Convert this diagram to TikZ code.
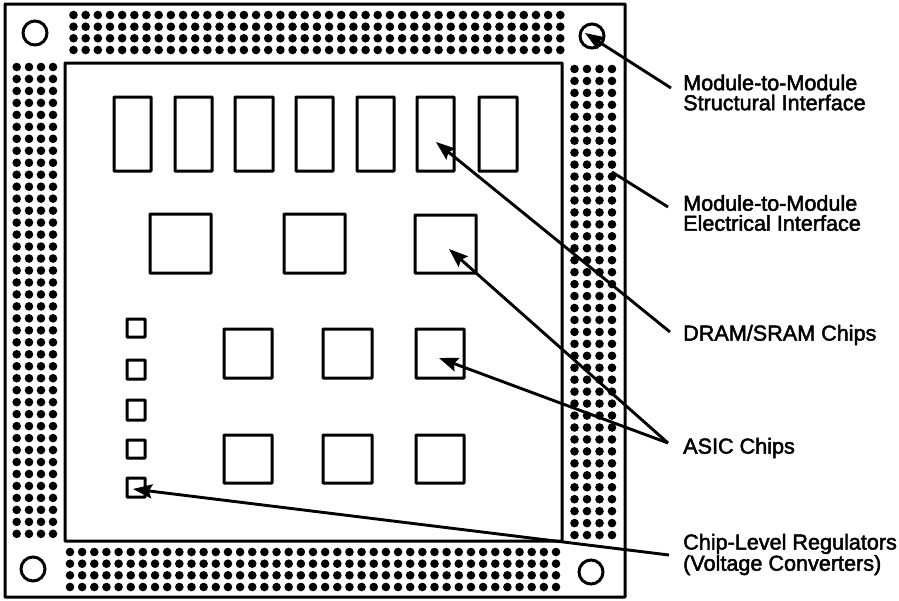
\documentclass[tikz,border=0pt]{standalone}
\usepackage{fontspec}
\setmainfont{Liberation Sans}[BoldFont={Liberation Sans},BoldFeatures={FakeBold=2.2}]
\usetikzlibrary{arrows.meta}
\tikzset{
  box/.style={draw=black,fill=white,line width=3pt,rectangle,inner sep=0pt,outer sep=0pt,anchor=north west,rounded corners=0.6pt},
  hole/.style={draw=black,circle,line width=3pt,minimum size=24pt,inner sep=0pt,outer sep=0pt},
  lab/.style={align=left,anchor=west,inner sep=0pt,font=\fontsize{21.6}{20}\selectfont\bfseries},
  lead/.style={draw=black,line width=2.9pt,-{Stealth[length=19pt,width=14pt,inset=3pt]},shorten >=0pt}
}
\newcommand{\chipbox}[5]{\node[box,minimum width=#4pt,minimum height=#5pt] (#1) at (#2,#3) {};}
\begin{document}
\begin{tikzpicture}[x=1pt,y=-1pt]
\useasboundingbox (0,0) rectangle (899,600);
\fill[white] (0,0) rectangle (899,600);
% frames
\chipbox{outer}{5}{4}{620}{593}
\chipbox{inner}{65}{63}{497}{478}
% pins
\foreach \i in {0,...,40}{\foreach \y in {15,26.7,38.3,50}{\fill ({73.5+12.17*\i},\y) circle[radius=4.3pt];}}
\foreach \i in {0,...,40}{\foreach \y in {552,563.7,575.3,587}{\fill ({70+12.15*\i},\y) circle[radius=4.3pt];}}
\foreach \i in {0,...,39}{\foreach \x in {16.7,29,41,53}{\fill (\x,{67+11.97*\i}) circle[radius=4.3pt];}}
\foreach \i in {0,...,39}{\foreach \x in {574.5,587,599.5,612}{\fill (\x,{69+11.95*\i}) circle[radius=4.3pt];}}
% holes
\node[hole] (h1) at (35,33) {};
\node[hole] (h2) at (592,36) {};
\node[hole] (h3) at (33,569) {};
\node[hole] (h4) at (591,572) {};
% DRAM
\chipbox{d1}{114}{97}{37}{74}
\chipbox{d2}{175}{97}{37}{74}
\chipbox{d3}{235}{97}{38}{74}
\chipbox{d4}{296}{97}{37}{74}
\chipbox{d5}{357}{97}{37}{74}
\chipbox{d6}{417}{97}{37}{74}
\chipbox{d7}{479}{97}{38}{74}
% large ASIC
\chipbox{a1}{150}{214}{61}{59}
\chipbox{a2}{284}{214}{61}{59}
\chipbox{a3}{415}{215}{61}{58}
% small ASIC
\chipbox{b1}{224}{329}{48}{49}
\chipbox{b2}{323}{329}{49}{49}
\chipbox{b3}{416}{329}{48}{49}
\chipbox{c1}{224}{435}{48}{48}
\chipbox{c2}{323}{435}{49}{48}
\chipbox{c3}{416}{435}{48}{48}
% regulators
\chipbox{r1}{127}{319}{18}{18}
\chipbox{r2}{127}{360}{18}{19}
\chipbox{r3}{127}{400}{18}{20}
\chipbox{r4}{127}{440}{18}{18}
\chipbox{r5}{127}{478}{18}{19}
% labels
\node[lab] (l1) at (683,92.5) {Module-to-Module\\Structural Interface};
\node[lab] (l2) at (683,213) {Module-to-Module\\Electrical Interface};
\node[lab] (l3) at (683,335) {DRAM/SRAM Chips};
\node[lab] (l4) at (683,448) {ASIC Chips};
\node[lab] (l5) at (683,554.5) {Chip-Level Regulators\\(Voltage Converters)};
% leader ends
\coordinate (s1) at (671,88);
\coordinate (s2) at (668,207);
\coordinate (s3) at (670,332);
\coordinate (s4) at (668,443);
\coordinate (s5) at (669,555);
\coordinate (t1) at (585,33);
\coordinate (t2) at (612,172);
\coordinate (t3) at (436,142);
\coordinate (t4) at (449,249);
\coordinate (t5) at (439,358);
\coordinate (t6) at (133,489);
\draw[lead] (s1) -- (t1);
\draw[draw=black,line width=2.9pt] (s2) -- (t2);
\draw[lead] (s3) -- (t3);
\draw[lead] (s4) -- (t4);
\draw[lead] (s4) -- (t5);
\draw[lead] (s5) -- (t6);
\end{tikzpicture}
\end{document}
